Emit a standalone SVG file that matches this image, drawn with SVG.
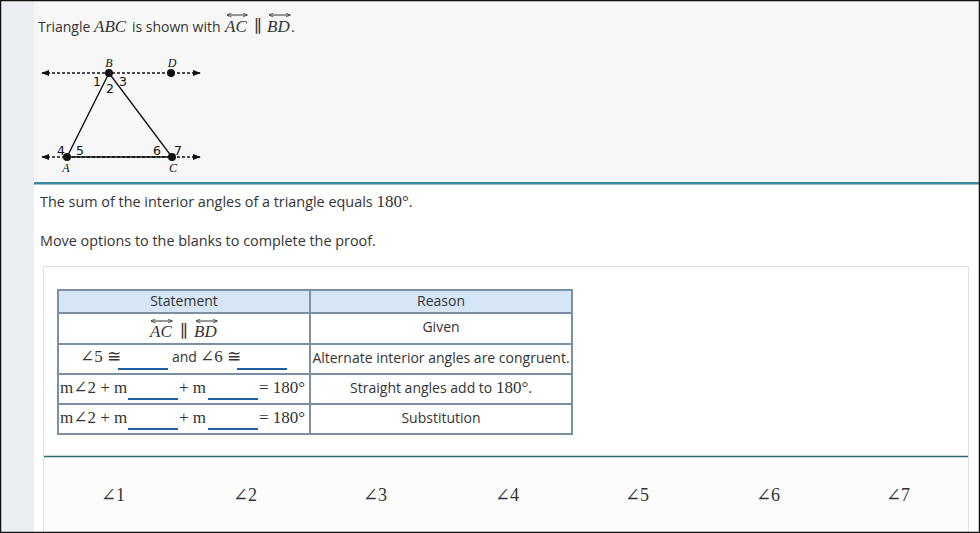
<svg xmlns="http://www.w3.org/2000/svg" width="980" height="533" viewBox="0 0 980 533">
<defs>
<style>
.t{font-family:"Open Sans","Liberation Sans",sans-serif;font-size:14px;fill:#333}
.p{font-size:14.4px}
.m{font-family:"Liberation Serif","DejaVu Serif",serif;font-size:17px;fill:#333}
.mi{font-family:"Liberation Serif","DejaVu Serif",serif;font-size:17px;font-style:italic;fill:#333}
.lbl{font-family:"DejaVu Sans","Liberation Sans",sans-serif;font-size:12.5px;fill:#111}
.pt{font-family:"Liberation Serif","DejaVu Serif",serif;font-size:12px;font-style:italic;fill:#111}
.cell{fill:#fff;stroke:#7b8fa5;stroke-width:2}
.hdr{fill:#d6e6f6;stroke:#7b8fa5;stroke-width:2}
.blank{stroke:#1f5f9f;stroke-width:2}
.oa{stroke:#333;stroke-width:1;fill:none}
.opt{font-family:"Liberation Serif","DejaVu Serif",serif;font-size:18px;fill:#333}
</style>
<marker id="ah" viewBox="0 0 10 10" refX="9" refY="5" markerWidth="6" markerHeight="6" orient="auto-start-reverse">
<path d="M0,1 L10,5 L0,9 z" fill="#111"/>
</marker>
<marker id="sa" viewBox="0 0 10 10" refX="9" refY="5" markerWidth="5" markerHeight="5" orient="auto-start-reverse">
<path d="M0,1 L10,5 L0,9" fill="none" stroke="#333" stroke-width="1.5"/>
</marker>
</defs>

<!-- backgrounds -->
<rect x="0" y="0" width="980" height="533" fill="#fff"/>
<rect x="0" y="0" width="34" height="533" fill="#ebeef2"/>
<rect x="34" y="0" width="946" height="183" fill="#f7f7f7"/>
<rect x="34" y="182" width="946" height="2.5" fill="#3b88a0"/>

<!-- title -->
<g id="title">
<text class="t" x="38" y="32">Triangle</text>
<text class="mi" x="94" y="32">ABC</text>
<text class="t" x="132" y="32">is shown with</text>
<text class="mi" x="225" y="32">AC</text>
<path class="oa" d="M227,15 H247" marker-start="url(#sa)" marker-end="url(#sa)"/>
<text class="m" x="254" y="32">∥</text>
<text class="mi" x="267" y="32">BD</text>
<path class="oa" d="M269,15 H290" marker-start="url(#sa)" marker-end="url(#sa)"/>
<text class="t" x="291" y="32">.</text>
</g>

<!-- figure -->
<g id="figure">
<line x1="42" y1="73" x2="200" y2="73" stroke="#111" stroke-width="1.3" stroke-dasharray="3,2" marker-start="url(#ah)" marker-end="url(#ah)"/>
<line x1="42" y1="157" x2="200" y2="157" stroke="#111" stroke-width="1.3" stroke-dasharray="3,2" marker-start="url(#ah)" marker-end="url(#ah)"/>
<path d="M67,157 L109,73 L172,157 Z" fill="none" stroke="#111" stroke-width="1.4"/>
<circle cx="109" cy="73" r="4" fill="#111"/>
<circle cx="171" cy="73" r="4" fill="#111"/>
<circle cx="67" cy="157" r="4" fill="#111"/>
<circle cx="172" cy="157" r="4" fill="#111"/>
<text class="pt" x="109" y="67" text-anchor="middle">B</text>
<text class="pt" x="172" y="67" text-anchor="middle">D</text>
<text class="pt" x="66" y="172" text-anchor="middle">A</text>
<text class="pt" x="173" y="172" text-anchor="middle">C</text>
<text class="lbl" x="97" y="86" text-anchor="middle">1</text>
<text class="lbl" x="110" y="93" text-anchor="middle">2</text>
<text class="lbl" x="123" y="86" text-anchor="middle">3</text>
<text class="lbl" x="61" y="155" text-anchor="middle">4</text>
<text class="lbl" x="80" y="155" text-anchor="middle">5</text>
<text class="lbl" x="157" y="155" text-anchor="middle">6</text>
<text class="lbl" x="178" y="155" text-anchor="middle">7</text>
</g>

<!-- prompt -->
<g id="prompt">
<text class="t p" x="40" y="207">The sum of the interior angles of a triangle equals <tspan class="m" font-size="17">180°</tspan>.</text>
<text class="t p" x="40" y="246">Move options to the blanks to complete the proof.</text>
</g>

<!-- panel -->
<rect x="43.5" y="266.5" width="925" height="280" fill="#fff" stroke="#e0e0e0" stroke-width="1"/>
<rect x="44" y="457" width="924" height="76" fill="#fcfcfc"/>
<line x1="44" y1="456.5" x2="968" y2="456.5" stroke="#2b6a73" stroke-width="1.5"/>

<!-- table -->
<g id="table">
<rect class="hdr" x="58" y="290" width="252" height="23"/>
<rect class="hdr" x="310" y="290" width="262" height="23"/>
<rect class="cell" x="58" y="313" width="252" height="31"/>
<rect class="cell" x="310" y="313" width="262" height="31"/>
<rect class="cell" x="58" y="344" width="252" height="30"/>
<rect class="cell" x="310" y="344" width="262" height="30"/>
<rect class="cell" x="58" y="374" width="252" height="30"/>
<rect class="cell" x="310" y="374" width="262" height="30"/>
<rect class="cell" x="58" y="404" width="252" height="30"/>
<rect class="cell" x="310" y="404" width="262" height="30"/>

<text class="t" x="184" y="306" text-anchor="middle">Statement</text>
<text class="t" x="441" y="306" text-anchor="middle">Reason</text>

<text class="mi" x="150" y="337">AC</text>
<path class="oa" d="M151,321 H172" marker-start="url(#sa)" marker-end="url(#sa)"/>
<text class="m" x="180" y="337">∥</text>
<text class="mi" x="194" y="337">BD</text>
<path class="oa" d="M196,321 H217" marker-start="url(#sa)" marker-end="url(#sa)"/>
<text class="t" x="441" y="332" text-anchor="middle">Given</text>

<text class="m" x="80" y="362">∠5 ≅</text>
<line class="blank" x1="118" y1="369" x2="168" y2="369"/>
<text class="t" x="172" y="362">and</text>
<text class="m" x="200" y="362">∠6 ≅</text>
<line class="blank" x1="237" y1="369" x2="287" y2="369"/>
<text class="t" x="441" y="363" text-anchor="middle">Alternate interior angles are congruent.</text>

<text class="m" x="60" y="393">m∠2 + m</text>
<line class="blank" x1="128" y1="399" x2="178" y2="399"/>
<text class="m" x="179" y="393">+ m</text>
<line class="blank" x1="208" y1="399" x2="258" y2="399"/>
<text class="m" x="259" y="393">= 180°</text>
<text class="t" x="441" y="393" text-anchor="middle">Straight angles add to <tspan class="m">180°</tspan>.</text>

<text class="m" x="60" y="423">m∠2 + m</text>
<line class="blank" x1="128" y1="429" x2="178" y2="429"/>
<text class="m" x="179" y="423">+ m</text>
<line class="blank" x1="208" y1="429" x2="258" y2="429"/>
<text class="m" x="259" y="423">= 180°</text>
<text class="t" x="441" y="423" text-anchor="middle">Substitution</text>
</g>

<!-- options -->
<g id="options">
<text class="opt" x="113" y="501" text-anchor="middle">∠1</text>
<text class="opt" x="245" y="501" text-anchor="middle">∠2</text>
<text class="opt" x="375" y="501" text-anchor="middle">∠3</text>
<text class="opt" x="507" y="501" text-anchor="middle">∠4</text>
<text class="opt" x="637" y="501" text-anchor="middle">∠5</text>
<text class="opt" x="768" y="501" text-anchor="middle">∠6</text>
<text class="opt" x="898" y="501" text-anchor="middle">∠7</text>
</g>

<!-- frame -->
<rect x="0.5" y="0.5" width="979" height="532" fill="none" stroke="#111" stroke-width="1.5"/>
</svg>
